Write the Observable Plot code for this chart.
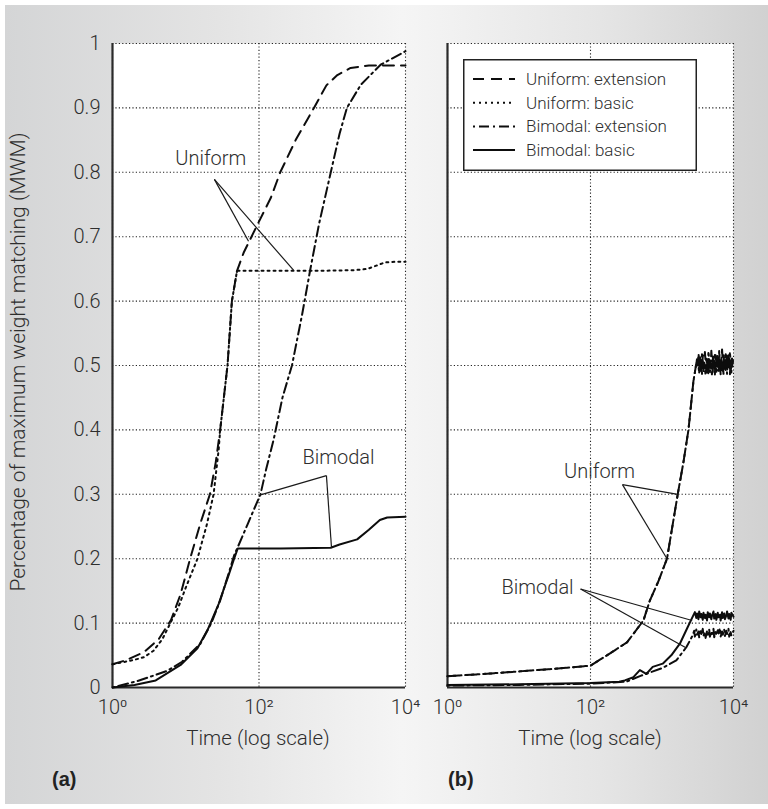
<!DOCTYPE html>
<html><head><meta charset="utf-8">
<script src="https://cdn.jsdelivr.net/npm/d3@7"></script>
<script src="https://cdn.jsdelivr.net/npm/@observablehq/plot@0.6"></script>
<style>
html,body{margin:0;padding:0;background:#fff;}
#fig{position:relative;width:768px;height:809px;overflow:hidden;font-family:Roboto,"Liberation Sans",sans-serif;font-weight:300;color:#333;}
#bg{position:absolute;left:5px;top:5px;width:763px;height:799px;background:linear-gradient(to right,#d4d5d6 0%,#e4e4e4 28%,#f5f5f5 52%,#e5e5e5 78%,#d1d1d1 100%);}
.abs{position:absolute;white-space:nowrap;}
</style></head><body>
<div id="fig"><div id="bg"></div></div>
<script>
// ---------- tick values ----------
const xTicks = [1, 100, 10000];
const xTickLabels = ["10\u2070", "10\u00b2", "10\u2074"];
const yTicks = [0, 0.1, 0.2, 0.3, 0.4, 0.5, 0.6, 0.7, 0.8, 0.9, 1];
const yTickLabels = ["0", "0.1", "0.2", "0.3", "0.4", "0.5", "0.6", "0.7", "0.8", "0.9", "1"];

// ---------- panel (a): exponents of time (log10) and values ----------
const aUniExtE = [0, 0.2, 0.43, 0.63, 0.8, 0.93, 1.06, 1.2, 1.33, 1.41, 1.47, 1.52, 1.57, 1.63, 1.70, 1.79, 1.98, 2.16, 2.29, 2.5, 2.75, 2.92, 3.07, 3.25, 3.5, 4.0];
const aUniExtV = [0.036, 0.043, 0.055, 0.075, 0.105, 0.145, 0.20, 0.255, 0.30, 0.35, 0.40, 0.45, 0.50, 0.60, 0.647, 0.675, 0.719, 0.76, 0.80, 0.85, 0.90, 0.935, 0.951, 0.962, 0.966, 0.966];
const aUniBasE = [0, 0.3, 0.43, 0.56, 0.68, 0.79, 0.9, 1.0, 1.16, 1.29, 1.38, 1.45, 1.47, 1.52, 1.57, 1.63, 1.70, 2.2, 2.8, 3.3, 3.48, 3.6, 3.72, 3.85, 4.0];
const aUniBasV = [0.036, 0.043, 0.047, 0.057, 0.075, 0.10, 0.125, 0.155, 0.20, 0.254, 0.30, 0.37, 0.40, 0.45, 0.50, 0.60, 0.647, 0.647, 0.647, 0.648, 0.650, 0.655, 0.66, 0.661, 0.661];
const aBiExtE = [0, 0.34, 0.6, 0.75, 0.95, 1.2, 1.35, 1.47, 1.58, 1.66, 1.71, 1.85, 2.02, 2.1, 2.2, 2.32, 2.45, 2.59, 2.70, 2.82, 2.98, 3.1, 3.2, 3.39, 3.66, 4.0];
const aBiExtV = [0, 0.01, 0.02, 0.026, 0.04, 0.068, 0.10, 0.135, 0.175, 0.205, 0.218, 0.255, 0.30, 0.34, 0.385, 0.45, 0.50, 0.58, 0.649, 0.72, 0.80, 0.86, 0.90, 0.936, 0.967, 0.988];
const aBiBasE = [0, 0.3, 0.59, 0.93, 1.16, 1.3, 1.45, 1.59, 1.66, 1.71, 2.3, 2.98, 3.1, 3.34, 3.5, 3.65, 3.75, 4.0];
const aBiBasV = [0, 0.004, 0.011, 0.035, 0.061, 0.09, 0.13, 0.176, 0.20, 0.216, 0.216, 0.217, 0.222, 0.23, 0.245, 0.26, 0.264, 0.265];

// ---------- panel (b) ----------
const bUniRiseE = [0, 0.5, 1.0, 1.5, 2.0, 2.23, 2.51, 2.74, 2.83, 2.95, 3.07, 3.16, 3.22, 3.3, 3.37, 3.44, 3.49];
const bUniRiseV = [0.0175, 0.021, 0.025, 0.029, 0.034, 0.05, 0.07, 0.104, 0.135, 0.165, 0.20, 0.26, 0.30, 0.35, 0.40, 0.476, 0.51];
const bUniBasPlatE = [3.50, 3.52, 3.53, 3.55, 3.56, 3.58, 3.59, 3.61, 3.62, 3.64, 3.65, 3.67, 3.68, 3.70, 3.71, 3.73, 3.74, 3.76, 3.77, 3.79, 3.80, 3.82, 3.83, 3.85, 3.86, 3.88, 3.89, 3.91, 3.92, 3.94, 3.95, 3.97, 3.98, 4.00];
const bUniBasPlatV = [0.51, 0.488, 0.515, 0.495, 0.52, 0.49, 0.505, 0.485, 0.512, 0.498, 0.522, 0.49, 0.508, 0.484, 0.515, 0.495, 0.518, 0.488, 0.51, 0.492, 0.523, 0.486, 0.512, 0.49, 0.517, 0.494, 0.52, 0.487, 0.508, 0.496, 0.521, 0.489, 0.513, 0.50];
const bUniExtPlatE = [3.50, 3.51, 3.53, 3.54, 3.56, 3.57, 3.59, 3.60, 3.62, 3.63, 3.65, 3.66, 3.68, 3.69, 3.71, 3.72, 3.74, 3.75, 3.77, 3.78, 3.80, 3.81, 3.83, 3.84, 3.86, 3.87, 3.89, 3.90, 3.92, 3.93, 3.95, 3.96, 3.98, 4.00];
const bUniExtPlatV = [0.50, 0.52, 0.49, 0.511, 0.487, 0.516, 0.496, 0.521, 0.489, 0.506, 0.485, 0.514, 0.497, 0.523, 0.49, 0.509, 0.486, 0.516, 0.494, 0.519, 0.488, 0.511, 0.497, 0.525, 0.487, 0.507, 0.49, 0.518, 0.493, 0.52, 0.486, 0.51, 0.498, 0.515];
const bBiBasE = [0, 1.0, 2.0, 2.4, 2.48, 2.6, 2.69, 2.78, 2.87, 3.01, 3.13, 3.25, 3.36, 3.46, 3.48, 3.49, 3.51, 3.52, 3.54, 3.55, 3.57, 3.58, 3.60, 3.61, 3.63, 3.64, 3.66, 3.67, 3.69, 3.70, 3.72, 3.73, 3.75, 3.76, 3.78, 3.79, 3.81, 3.82, 3.84, 3.85, 3.87, 3.88, 3.90, 3.91, 3.93, 3.94, 3.96, 3.97, 4.00];
const bBiBasV = [0.004, 0.005, 0.007, 0.009, 0.011, 0.016, 0.027, 0.021, 0.032, 0.037, 0.05, 0.068, 0.094, 0.117, 0.108, 0.115, 0.106, 0.118, 0.109, 0.114, 0.105, 0.116, 0.108, 0.113, 0.104, 0.117, 0.109, 0.115, 0.106, 0.112, 0.118, 0.107, 0.114, 0.105, 0.116, 0.109, 0.113, 0.104, 0.117, 0.108, 0.115, 0.106, 0.112, 0.118, 0.107, 0.114, 0.105, 0.116, 0.11];
const bBiExtE = [0, 1.0, 2.0, 2.5, 2.7, 2.85, 3.0, 3.1, 3.2, 3.34, 3.43, 3.45, 3.46, 3.48, 3.49, 3.51, 3.52, 3.54, 3.55, 3.57, 3.58, 3.60, 3.61, 3.63, 3.64, 3.66, 3.67, 3.69, 3.70, 3.72, 3.73, 3.75, 3.76, 3.78, 3.79, 3.81, 3.82, 3.84, 3.85, 3.87, 3.88, 3.90, 3.91, 3.93, 3.94, 3.96, 3.97, 4.00];
const bBiExtV = [0.003, 0.004, 0.006, 0.009, 0.018, 0.024, 0.03, 0.036, 0.042, 0.0625, 0.081, 0.088, 0.079, 0.09, 0.082, 0.087, 0.078, 0.089, 0.083, 0.091, 0.08, 0.086, 0.077, 0.088, 0.082, 0.09, 0.079, 0.087, 0.083, 0.091, 0.078, 0.086, 0.081, 0.089, 0.084, 0.092, 0.079, 0.087, 0.082, 0.09, 0.08, 0.088, 0.083, 0.091, 0.079, 0.086, 0.081, 0.088];

// ---------- annotations (time, value) ----------
const aUniformLabel = {t: 22, v: 0.822, text: "Uniform"};
const aUniformLinks = [{t1: 24.6, v1: 0.789, t2: 72, v2: 0.693}, {t1: 24.6, v1: 0.789, t2: 296, v2: 0.648}];
const aBimodalLabel = {t: 1217, v: 0.357, text: "Bimodal"};
const aBimodalLinks = [{t1: 833, v1: 0.329, t2: 105, v2: 0.299}, {t1: 833, v1: 0.329, t2: 977, v2: 0.217}];
const bUniformLabel = {t: 134, v: 0.336, text: "Uniform"};
const bUniformLinks = [{t1: 280, v1: 0.315, t2: 1660, v2: 0.30}, {t1: 280, v1: 0.315, t2: 1175, v2: 0.20}];
const bBimodalLabel = {t: 18.2, v: 0.155, text: "Bimodal"};
const bBimodalLinks = [{t1: 72.6, v1: 0.153, t2: 2640, v2: 0.104}, {t1: 72.6, v1: 0.153, t2: 2130, v2: 0.062}];

const legendNames = ["Uniform: extension", "Uniform: basic", "Bimodal: extension", "Bimodal: basic"];
const dashes = {"Uniform: extension": "11,7", "Uniform: basic": "2,4", "Bimodal: extension": "2,4,10,4", "Bimodal: basic": null};

// ---------- helpers ----------
const rows = (E, V) => E.map((e, i) => ({t: 10 ** e, v: V[i]}));
const lineMark = (data, name) => Plot.line(data, {x: "t", y: "v", stroke: "#0d0d0d", strokeWidth: 2, strokeDasharray: dashes[name]});
const fontStyle = {background: "transparent", fontFamily: "Roboto, 'Liberation Sans', sans-serif", fontSize: "20px", fontWeight: 300, color: "#2e2e2e", overflow: "visible"};

function baseMarks() {
  return [
    Plot.frame({fill: "white", stroke: "none"}),
    Plot.ruleY(yTicks, {stroke: "#222", strokeWidth: 1.1, strokeDasharray: "1.2,2.2"}),
    Plot.ruleX(xTicks, {stroke: "#222", strokeWidth: 1.1, strokeDasharray: "1.2,2.2"}),
    Plot.ruleX([1], {stroke: "#2a2a2a", strokeWidth: 2.2}),
    Plot.ruleY([0], {stroke: "#2a2a2a", strokeWidth: 2.2})
  ];
}
function annot(label, links) {
  return [
    Plot.link(links, {x1: "t1", y1: "v1", x2: "t2", y2: "v2", stroke: "#1a1a1a", strokeWidth: 1.2}),
    Plot.text([label], {x: "t", y: "v", text: "text", fontSize: 20, fill: "#2e2e2e"})
  ];
}
const xScale = {type: "log", domain: [1, 10000], ticks: xTicks, tickFormat: d => xTickLabels[xTicks.indexOf(d)], tickSize: 0, tickPadding: 12, label: null};

const left = Plot.plot({
  width: 420, height: 760,
  marginTop: 43, marginBottom: 73, marginLeft: 112, marginRight: 15,
  x: xScale,
  y: {domain: [0, 1], ticks: yTicks, tickFormat: d => yTickLabels[yTicks.indexOf(d)], tickSize: 0, tickPadding: 12, label: null},
  style: fontStyle,
  marks: [
    ...baseMarks(),
    lineMark(rows(aBiBasE, aBiBasV), "Bimodal: basic"),
    lineMark(rows(aBiExtE, aBiExtV), "Bimodal: extension"),
    lineMark(rows(aUniBasE, aUniBasV), "Uniform: basic"),
    lineMark(rows(aUniExtE, aUniExtV), "Uniform: extension"),
    ...annot(aUniformLabel, aUniformLinks),
    ...annot(aBimodalLabel, aBimodalLinks)
  ]
});

const right = Plot.plot({
  width: 348, height: 760,
  marginTop: 43, marginBottom: 73, marginLeft: 27, marginRight: 35,
  x: xScale,
  y: {domain: [0, 1], axis: null},
  style: fontStyle,
  marks: [
    ...baseMarks(),
    lineMark(rows(bBiBasE, bBiBasV), "Bimodal: basic"),
    lineMark(rows(bBiExtE, bBiExtV), "Bimodal: extension"),
    lineMark(rows(bUniRiseE.concat(bUniBasPlatE), bUniRiseV.concat(bUniBasPlatV)), "Uniform: basic"),
    lineMark(rows(bUniRiseE.concat(bUniExtPlatE), bUniRiseV.concat(bUniExtPlatV)), "Uniform: extension"),
    ...annot(bUniformLabel, bUniformLinks),
    ...annot(bBimodalLabel, bBimodalLinks)
  ]
});

const fig = document.getElementById("fig");
function place(el, x, y, w) {
  const d = document.createElement("div");
  d.className = "abs";
  d.style.left = x + "px"; d.style.top = y + "px";
  if (w) d.style.width = w + "px";
  d.appendChild(el);
  fig.appendChild(d);
  return d;
}
place(left, 0, 0, 420);
place(right, 420, 0, 348);

function label(text, x, y, css) {
  const d = document.createElement("div");
  d.className = "abs";
  d.textContent = text;
  d.style.left = x + "px"; d.style.top = y + "px";
  Object.assign(d.style, css || {});
  fig.appendChild(d);
  return d;
}
const xl = {fontSize: "20.5px", transform: "translateX(-50%)", color: "#2e2e2e"};
label("Time (log scale)", 258, 726, xl);
label("Time (log scale)", 590, 726, xl);
label("(a)", 52, 768, {fontSize: "20px", fontWeight: 700, fontFamily: "'Liberation Sans', Arial, sans-serif", color: "#222"});
label("(b)", 448, 768, {fontSize: "20px", fontWeight: 700, fontFamily: "'Liberation Sans', Arial, sans-serif", color: "#222"});
label("Percentage of maximum weight matching (MWM)", 18, 362, {fontSize: "21px", color: "#2e2e2e", transform: "translate(-50%,-50%) rotate(-90deg)"});

// legend
const lg = d3.create("svg").attr("width", 234).attr("height", 112)
  .style("font-family", "Roboto, 'Liberation Sans', sans-serif").style("font-weight", 300);
lg.append("rect").attr("x", 0.75).attr("y", 0.75).attr("width", 232.5).attr("height", 110.5)
  .attr("fill", "white").attr("stroke", "#222").attr("stroke-width", 1.5);
legendNames.forEach((n, i) => {
  const y = 20 + i * 23.7;
  lg.append("line").attr("x1", 10).attr("x2", 52).attr("y1", y).attr("y2", y)
    .attr("stroke", "#0d0d0d").attr("stroke-width", 2).attr("stroke-dasharray", dashes[n]);
  lg.append("text").attr("x", 63).attr("y", y).attr("dy", "0.35em").attr("font-size", 17).attr("fill", "#2e2e2e").text(n);
});
place(lg.node(), 463, 59);
</script></body></html>
